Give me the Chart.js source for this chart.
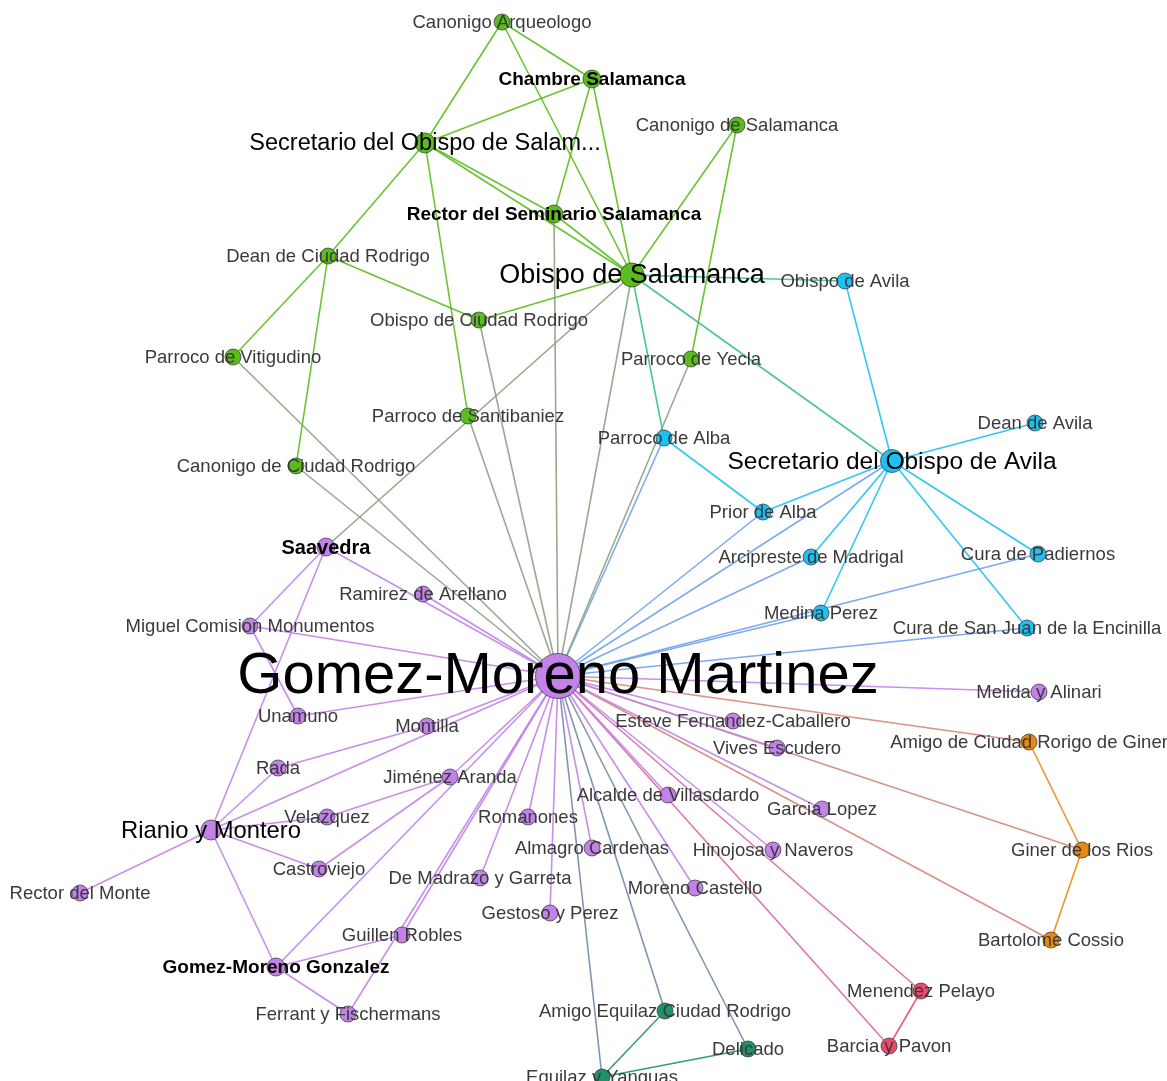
<!DOCTYPE html>
<html lang="es">
<head>
  <meta charset="UTF-8">
  <title>Red Gomez-Moreno</title>
  <script src="https://cdn.jsdelivr.net/npm/chart.js"></script>
  <style>
    body { margin: 0; background: #ffffff; }
    .grafo { width: 1167px; height: 1081px; }
  </style>
</head>
<body>
  <div class="grafo"><canvas id="red"></canvas></div>

  <script>
    // grupos (comunidades) y su color
    const grupos = ['Salamanca', 'Avila', 'Gomez-Moreno', 'Giner', 'Menendez Pelayo', 'Equilaz'];
    const coloresGrupo = ['#5abd1c', '#1cc0f2', '#c282e8', '#e8880e', '#ea4a6c', '#229068'];

    // nodos: nombre, posicion en el layout, grupo
    const nombres = [
      'Canonigo Arqueologo', 'Chambre Salamanca', 'Secretario del Obispo de Salam...', 'Canonigo de Salamanca',
      'Rector del Seminario Salamanca', 'Obispo de Salamanca', 'Dean de Ciudad Rodrigo', 'Obispo de Ciudad Rodrigo',
      'Parroco de Vitigudino', 'Parroco de Yecla', 'Parroco de Santibaniez', 'Canonigo de Ciudad Rodrigo',
      'Obispo de Avila', 'Dean de Avila', 'Parroco de Alba', 'Secretario del Obispo de Avila', 'Prior de Alba',
      'Arcipreste de Madrigal', 'Cura de Padiernos', 'Medina Perez', 'Cura de San Juan de la Encinilla',
      'Gomez-Moreno Martinez', 'Saavedra', 'Ramirez de Arellano', 'Miguel Comision Monumentos', 'Unamuno',
      'Montilla', 'Rada', 'Jiménez Aranda', 'Velazquez', 'Rianio y Montero', 'Romanones', 'Castroviejo',
      'Rector del Monte', 'De Madrazo y Garreta', 'Almagro Cardenas', 'Gestoso y Perez', 'Guillen Robles',
      'Gomez-Moreno Gonzalez', 'Ferrant y Fischermans', 'Esteve Fernandez-Caballero', 'Vives Escudero',
      'Alcalde de Villasdardo', 'Garcia Lopez', 'Hinojosa y Naveros', 'Moreno Castello', 'Melida y Alinari',
      'Amigo de Ciudad Rorigo de Giner', 'Giner de los Rios', 'Bartolome Cossio',
      'Menendez Pelayo', 'Barcia y Pavon',
      'Amigo Equilaz Ciudad Rodrigo', 'Delicado', 'Equilaz y Yanguas'
    ];
    const posX = [
      502, 592, 425, 737, 554, 632, 328, 479, 233, 691, 468, 296,
      845, 1035, 664, 892, 763, 811, 1038, 821, 1027,
      558, 326, 423, 250, 298, 427, 278, 450, 327, 211, 528, 319,
      80, 480, 592, 550, 402, 276, 348, 733, 777, 668, 822, 773, 695, 1039,
      1029, 1082, 1051,
      921, 889,
      665, 748, 602
    ];
    const posY = [
      22, 79, 143, 125, 214, 275, 256, 320, 357, 359, 416, 466,
      281, 423, 438, 461, 512, 557, 554, 613, 628,
      676, 547, 594, 626, 716, 726, 768, 777, 817, 830, 817, 869,
      893, 878, 848, 913, 935, 967, 1014, 721, 748, 795, 809, 850, 888, 692,
      742, 850, 940,
      991, 1046,
      1011, 1049, 1077
    ];
    const grupoNodo = [
      0, 0, 0, 0, 0, 0, 0, 0, 0, 0, 0, 0,
      1, 1, 1, 1, 1, 1, 1, 1, 1,
      2, 2, 2, 2, 2, 2, 2, 2, 2, 2, 2, 2,
      2, 2, 2, 2, 2, 2, 2, 2, 2, 2, 2, 2, 2, 2,
      3, 3, 3,
      4, 4,
      5, 5, 5
    ];

    // aristas (origen, destino)
    const aristas = [
      ['Canonigo Arqueologo', 'Chambre Salamanca'],
      ['Canonigo Arqueologo', 'Secretario del Obispo de Salam...'],
      ['Canonigo Arqueologo', 'Obispo de Salamanca'],
      ['Chambre Salamanca', 'Secretario del Obispo de Salam...'],
      ['Chambre Salamanca', 'Rector del Seminario Salamanca'],
      ['Chambre Salamanca', 'Obispo de Salamanca'],
      ['Secretario del Obispo de Salam...', 'Rector del Seminario Salamanca'],
      ['Secretario del Obispo de Salam...', 'Obispo de Salamanca'],
      ['Secretario del Obispo de Salam...', 'Dean de Ciudad Rodrigo'],
      ['Secretario del Obispo de Salam...', 'Parroco de Santibaniez'],
      ['Rector del Seminario Salamanca', 'Obispo de Salamanca'],
      ['Canonigo de Salamanca', 'Obispo de Salamanca'],
      ['Canonigo de Salamanca', 'Parroco de Yecla'],
      ['Dean de Ciudad Rodrigo', 'Parroco de Vitigudino'],
      ['Dean de Ciudad Rodrigo', 'Canonigo de Ciudad Rodrigo'],
      ['Dean de Ciudad Rodrigo', 'Obispo de Ciudad Rodrigo'],
      ['Obispo de Ciudad Rodrigo', 'Obispo de Salamanca'],
      ['Obispo de Salamanca', 'Obispo de Avila'],
      ['Obispo de Salamanca', 'Secretario del Obispo de Avila'],
      ['Obispo de Salamanca', 'Parroco de Alba'],
      ['Obispo de Salamanca', 'Saavedra'],
      ['Rector del Seminario Salamanca', 'Gomez-Moreno Martinez'],
      ['Obispo de Salamanca', 'Gomez-Moreno Martinez'],
      ['Parroco de Yecla', 'Gomez-Moreno Martinez'],
      ['Obispo de Ciudad Rodrigo', 'Gomez-Moreno Martinez'],
      ['Parroco de Santibaniez', 'Gomez-Moreno Martinez'],
      ['Parroco de Vitigudino', 'Gomez-Moreno Martinez'],
      ['Canonigo de Ciudad Rodrigo', 'Gomez-Moreno Martinez'],
      ['Obispo de Avila', 'Secretario del Obispo de Avila'],
      ['Secretario del Obispo de Avila', 'Dean de Avila'],
      ['Secretario del Obispo de Avila', 'Prior de Alba'],
      ['Secretario del Obispo de Avila', 'Arcipreste de Madrigal'],
      ['Secretario del Obispo de Avila', 'Medina Perez'],
      ['Secretario del Obispo de Avila', 'Cura de Padiernos'],
      ['Secretario del Obispo de Avila', 'Cura de San Juan de la Encinilla'],
      ['Secretario del Obispo de Avila', 'Gomez-Moreno Martinez'],
      ['Parroco de Alba', 'Prior de Alba'],
      ['Parroco de Alba', 'Gomez-Moreno Martinez'],
      ['Prior de Alba', 'Gomez-Moreno Martinez'],
      ['Arcipreste de Madrigal', 'Gomez-Moreno Martinez'],
      ['Medina Perez', 'Gomez-Moreno Martinez'],
      ['Cura de Padiernos', 'Gomez-Moreno Martinez'],
      ['Cura de San Juan de la Encinilla', 'Gomez-Moreno Martinez'],
      ['Saavedra', 'Gomez-Moreno Martinez'],
      ['Saavedra', 'Miguel Comision Monumentos'],
      ['Saavedra', 'Rianio y Montero'],
      ['Ramirez de Arellano', 'Gomez-Moreno Martinez'],
      ['Miguel Comision Monumentos', 'Unamuno'],
      ['Miguel Comision Monumentos', 'Gomez-Moreno Martinez'],
      ['Unamuno', 'Gomez-Moreno Martinez'],
      ['Rada', 'Montilla'],
      ['Montilla', 'Gomez-Moreno Martinez'],
      ['Rada', 'Rianio y Montero'],
      ['Rianio y Montero', 'Gomez-Moreno Martinez'],
      ['Rianio y Montero', 'Velazquez'],
      ['Velazquez', 'Jiménez Aranda'],
      ['Castroviejo', 'Jiménez Aranda'],
      ['Jiménez Aranda', 'Gomez-Moreno Martinez'],
      ['Rianio y Montero', 'Castroviejo'],
      ['Rianio y Montero', 'Rector del Monte'],
      ['Rianio y Montero', 'Gomez-Moreno Gonzalez'],
      ['Gomez-Moreno Gonzalez', 'Gomez-Moreno Martinez'],
      ['Gomez-Moreno Gonzalez', 'Guillen Robles'],
      ['Gomez-Moreno Gonzalez', 'Ferrant y Fischermans'],
      ['Guillen Robles', 'Gomez-Moreno Martinez'],
      ['Ferrant y Fischermans', 'Gomez-Moreno Martinez'],
      ['Romanones', 'Gomez-Moreno Martinez'],
      ['De Madrazo y Garreta', 'Gomez-Moreno Martinez'],
      ['Gestoso y Perez', 'Gomez-Moreno Martinez'],
      ['Almagro Cardenas', 'Gomez-Moreno Martinez'],
      ['Alcalde de Villasdardo', 'Gomez-Moreno Martinez'],
      ['Moreno Castello', 'Gomez-Moreno Martinez'],
      ['Hinojosa y Naveros', 'Gomez-Moreno Martinez'],
      ['Garcia Lopez', 'Gomez-Moreno Martinez'],
      ['Vives Escudero', 'Gomez-Moreno Martinez'],
      ['Esteve Fernandez-Caballero', 'Gomez-Moreno Martinez'],
      ['Melida y Alinari', 'Gomez-Moreno Martinez'],
      ['Amigo de Ciudad Rorigo de Giner', 'Giner de los Rios'],
      ['Giner de los Rios', 'Bartolome Cossio'],
      ['Amigo de Ciudad Rorigo de Giner', 'Gomez-Moreno Martinez'],
      ['Giner de los Rios', 'Gomez-Moreno Martinez'],
      ['Bartolome Cossio', 'Gomez-Moreno Martinez'],
      ['Menendez Pelayo', 'Barcia y Pavon'],
      ['Menendez Pelayo', 'Gomez-Moreno Martinez'],
      ['Barcia y Pavon', 'Gomez-Moreno Martinez'],
      ['Amigo Equilaz Ciudad Rodrigo', 'Equilaz y Yanguas'],
      ['Delicado', 'Equilaz y Yanguas'],
      ['Equilaz y Yanguas', 'Gomez-Moreno Martinez'],
      ['Amigo Equilaz Ciudad Rodrigo', 'Gomez-Moreno Martinez'],
      ['Delicado', 'Gomez-Moreno Martinez']
    ];

    // estilo de los nodos destacados (radio, tamaño de letra, negrita)
    const destacados = {
      'Gomez-Moreno Martinez': { r: 22.5, font: 58, bold: false },
      'Obispo de Salamanca': { r: 12, font: 27, bold: false },
      'Secretario del Obispo de Avila': { r: 11.5, font: 24.5, bold: false },
      'Secretario del Obispo de Salam...': { r: 10, font: 23.5, bold: false },
      'Rianio y Montero': { r: 10, font: 23.8, bold: false },
      'Rector del Seminario Salamanca': { r: 9, font: 19, bold: true },
      'Chambre Salamanca': { r: 9, font: 19, bold: true },
      'Saavedra': { r: 9, font: 20, bold: true },
      'Gomez-Moreno Gonzalez': { r: 9, font: 19, bold: true }
    };

    function hexRgb(h) {
      return [parseInt(h.substr(1, 2), 16), parseInt(h.substr(3, 2), 16), parseInt(h.substr(5, 2), 16)];
    }
    // color de arista = mezcla de los dos extremos, como en Gephi
    function mezcla(a, b) {
      const ca = hexRgb(a), cb = hexRgb(b);
      return 'rgba(' + Math.round((ca[0] + cb[0]) / 2) + ',' + Math.round((ca[1] + cb[1]) / 2) + ',' +
        Math.round((ca[2] + cb[2]) / 2) + ',0.9)';
    }

    const colorNodo = grupoNodo.map(g => coloresGrupo[g]);
    const estilo = nombres.map(n => destacados[n] || { r: 8, font: 18.5, bold: false });

    const datasets = aristas.map(([a, b]) => {
      const i = nombres.indexOf(a), j = nombres.indexOf(b);
      return {
        type: 'line',
        data: [{ x: posX[i], y: posY[i] }, { x: posX[j], y: posY[j] }],
        borderColor: mezcla(colorNodo[i], colorNodo[j]),
        borderWidth: 1.6,
        pointRadius: 0,
        fill: false,
        clip: false,
        order: 2
      };
    });

    datasets.push({
      type: 'scatter',
      label: 'nodos',
      data: nombres.map((n, i) => ({ x: posX[i], y: posY[i] })),
      backgroundColor: colorNodo,
      borderColor: 'rgba(60,60,60,0.75)',
      borderWidth: 1,
      pointRadius: estilo.map(e => e.r),
      pointHoverRadius: estilo.map(e => e.r),
      clip: false,
      order: 1
    });

    const etiquetas = {
      id: 'etiquetas',
      afterDatasetsDraw(chart) {
        const meta = chart.getDatasetMeta(chart.data.datasets.length - 1);
        const ctx = chart.ctx;
        ctx.save();
        ctx.textAlign = 'center';
        ctx.textBaseline = 'middle';
        meta.data.forEach((p, i) => {
          const e = estilo[i];
          ctx.font = (e.bold ? 'bold ' : '') + e.font + 'px "Liberation Sans", Arial, sans-serif';
          ctx.fillStyle = (e.font > 20 || e.bold) ? '#000000' : '#3a3a3a';
          ctx.fillText(nombres[i], p.x, p.y + 1);
        });
        ctx.restore();
      }
    };

    new Chart(document.getElementById('red'), {
      type: 'scatter',
      data: { datasets },
      options: {
        responsive: true,
        maintainAspectRatio: false,
        animation: false,
        layout: { padding: 0, autoPadding: false },
        scales: {
          x: { type: 'linear', min: 0, max: 1167, display: false },
          y: { type: 'linear', min: 0, max: 1081, reverse: true, display: false }
        },
        plugins: {
          legend: { display: false },
          tooltip: { enabled: false }
        }
      },
      plugins: [etiquetas]
    });
  </script>
</body>
</html>
